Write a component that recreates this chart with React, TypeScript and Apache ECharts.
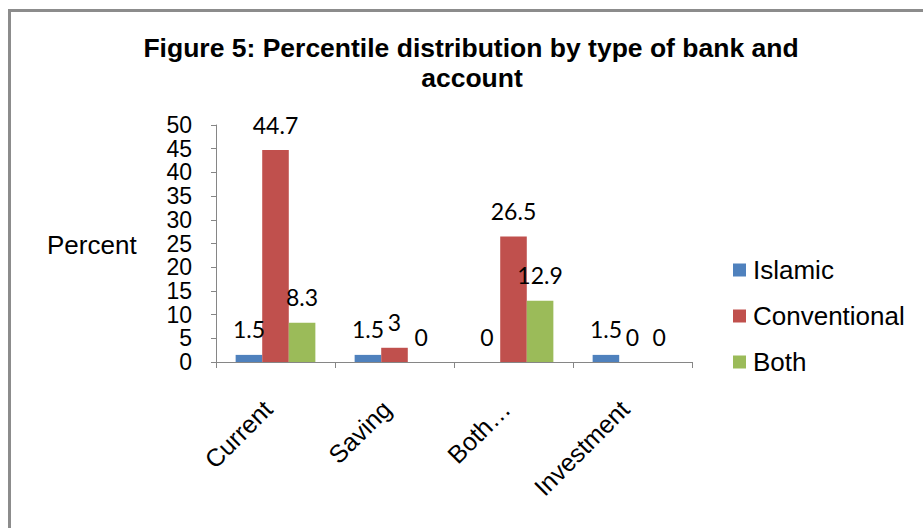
import React, { useEffect, useRef } from "react";
import * as echarts from "echarts";

const categories = ["Current", "Saving", "Both…", "Investment"];
const islamic = [1.5, 1.5, 0, 1.5];
const conventional = [44.7, 3, 26.5, 0];
const both = [8.3, 0, 12.9, 0];
const titleLines = ["Figure 5: Percentile distribution by type of bank and", "account"];

export default function App() {
  const ref = useRef<HTMLDivElement>(null);
  useEffect(() => {
    if (!ref.current) return;
    const chart = echarts.init(ref.current, undefined, { renderer: "svg" });
    const labelStyle = {
      show: true,
      position: "top" as const,
      distance: 14,
      color: "#000",
      fontFamily: "Lato",
      fontSize: 23,
    };
    const mk = (name: string, data: number[], color: string) => ({
      name,
      type: "bar",
      data,
      barGap: "0%",
      barCategoryGap: "33%",
      itemStyle: { color },
      label: labelStyle,
    });
    const titleStyle = {
      fontFamily: "Liberation Sans, Arial, sans-serif",
      fontWeight: "bold",
      fontSize: 26.5,
      fill: "#000",
      textAlign: "center",
      textVerticalAlign: "middle",
    };
    chart.setOption({
      animation: false,
      backgroundColor: "#fff",
      textStyle: { fontFamily: "Liberation Sans, Arial, sans-serif" },
      graphic: [
        {
          type: "rect",
          shape: { x: 9.5, y: 10.5, width: 1000, height: 600 },
          style: { fill: "none", stroke: "#8c8c8c", lineWidth: 3 },
          silent: true,
        },
        { type: "text", x: 471, y: 48, style: { ...titleStyle, text: titleLines[0] } },
        { type: "text", x: 472, y: 78, style: { ...titleStyle, text: titleLines[1] } },
        {
          type: "text",
          x: 47,
          y: 245,
          style: {
            text: "Percent",
            fontFamily: "Liberation Sans, Arial, sans-serif",
            fontSize: 26,
            fill: "#000",
            textAlign: "left",
            textVerticalAlign: "middle",
          },
        },
      ],
      legend: {
        orient: "vertical",
        left: 733,
        top: 256,
        padding: 0,
        itemWidth: 13,
        itemHeight: 13,
        itemGap: 18,
        icon: "rect",
        textStyle: {
          fontFamily: "Liberation Sans, Arial, sans-serif",
          fontSize: 26,
          lineHeight: 28,
          color: "#000",
          padding: [0, 0, 0, 2],
        },
        data: ["Islamic", "Conventional", "Both"],
      },
      grid: { left: 216, right: 231, top: 125, bottom: 166 },
      xAxis: {
        type: "category",
        data: categories,
        axisLine: { lineStyle: { color: "#868686", width: 1 } },
        axisTick: { show: true, length: 6, lineStyle: { color: "#868686" } },
        axisLabel: {
          rotate: 45,
          interval: 0,
          margin: 35,
          padding: [0, 11, 0, 0],
          color: "#000",
          fontSize: 25,
          fontFamily: "Liberation Sans, Arial, sans-serif",
        },
      },
      yAxis: {
        type: "value",
        min: 0,
        max: 50,
        interval: 5,
        splitLine: { show: false },
        axisLine: { show: true, lineStyle: { color: "#868686", width: 1 } },
        axisTick: { show: true, length: 5, lineStyle: { color: "#868686" } },
        axisLabel: {
          margin: 24,
          color: "#000",
          fontSize: 23,
          fontFamily: "Liberation Sans, Arial, sans-serif",
        },
      },
      series: [
        mk("Islamic", islamic, "#4F81BD"),
        mk("Conventional", conventional, "#C0504D"),
        mk("Both", both, "#9BBB59"),
      ],
    });
    return () => chart.dispose();
  }, []);
  return (
    <div
      ref={ref}
      style={{ position: "fixed", left: 0, top: 0, width: 923, height: 528 }}
    />
  );
}
